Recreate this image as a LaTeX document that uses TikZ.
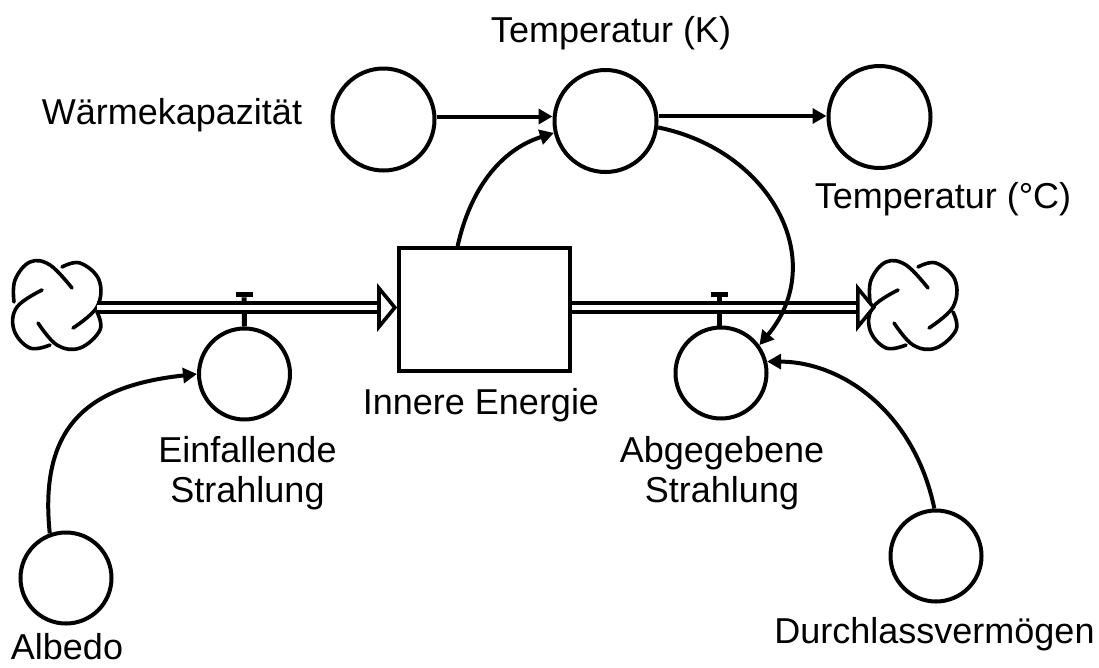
\documentclass[tikz,border=0pt]{standalone}
\usepackage{fontspec}
\setmainfont{Liberation Sans}
\usetikzlibrary{arrows.meta,positioning,calc}
\tikzset{
    x=1pt,y=1pt,
    >={Triangle[length=14pt,width=15pt]},
    converter/.style={circle,draw,line width=4pt,minimum size=91pt,inner sep=0pt},
    bigconverter/.style={converter,minimum size=102pt},
    stock/.style={rectangle,draw,line width=4.2pt,minimum width=170.5pt,minimum height=122.5pt,inner sep=0pt},
    label/.style={font=\fontsize{36}{39.5}\selectfont,align=center,anchor=base,inner sep=0pt},
    link/.style={->,line width=4pt},
    pipe/.style={draw,double=white,double distance=5.4pt,line width=3.4pt},
    pipehead/.style={-{Triangle[open,fill=white,length=20pt,width=48pt,line width=3.6pt]},line width=3.4pt},
    valvecap/.style={rectangle,fill=black,minimum width=17pt,minimum height=5.5pt,inner sep=0pt},
    valvestem/.style={line width=5pt},
    cloudline/.style={line width=3.6pt,line cap=round,smooth,tension=0.65},
    cloudknot/.pic={
        \draw[cloudline] plot coordinates {(-43,3) (-42,25) (-27,43) (-7,40) (15,17)};
        \draw[cloudline] plot coordinates {(5,38) (23,42) (42,25) (40,-2) (16,-23)};
        \draw[cloudline] plot coordinates {(-15,15) (-40,-2) (-43,-25) (-27,-43) (-7,-40)};
        \draw[cloudline] plot coordinates {(-19,-18) (0,-40) (23,-43) (43,-25) (40,-7)};
    }
}
\begin{document}
\begin{tikzpicture}
    \useasboundingbox (0,0) rectangle (1099,-667);

    % Converters
    \node[bigconverter] (waerme) at (383.5,-119.5) {};
    \node[bigconverter] (tempk) at (605.5,-121) {};
    \node[bigconverter] (tempc) at (879.5,-117) {};
    \node[converter] (einfall) at (244.5,-374) {};
    \node[converter] (abgabe) at (721,-373) {};
    \node[converter] (albedo) at (66,-578) {};
    \node[converter] (durchlass) at (936,-556) {};

    % Stock
    \node[stock] (energie) at (484.5,-309.5) {};

    % Clouds
    \pic at (57,-305) {cloudknot};
    \pic at (913,-305) {cloudknot};
    \coordinate (cloudin) at (97,-307.5);
    \coordinate (headin) at (381,-307.5);
    \coordinate (boxin) at (energie.west |- headin);
    \coordinate (boxout) at (energie.east |- headin);
    \coordinate (headout) at (856,-307.5);
    \coordinate (cloudout) at (876,-307.5);

    % Valves
    \node[valvecap] (valvein) at (244,-294.5) {};
    \node[valvecap] (valveout) at (719,-294.5) {};
    \draw[valvestem] (einfall.north) -- (valvein);
    \draw[valvestem] (abgabe.north -| valveout) -- (valveout);

    % Flows
    \draw[pipe] (cloudin) -- (headin);
    \draw[pipehead] (headin) -- (boxin);
    \draw[pipe] (boxout) -- (headout);
    \draw[pipehead] (headout) -- (cloudout);

    % Links
    \coordinate (wtarget) at (tempk.west |- 0,-116.5);
    \draw[link] (waerme.east |- wtarget) -- (wtarget);
    \coordinate (ctarget) at (tempc.west |- 0,-116);
    \draw[link] (tempk.east |- ctarget) -- (ctarget);
    \draw[link] (energie.113) .. controls (470,-190) and (500,-150) .. (tempk.193);
    \draw[link] (tempk.-7) .. controls (770,-150) and (830,-260) .. (abgabe.36);
    \draw[link] (durchlass.92) .. controls (915,-415) and (845,-362) .. (abgabe.14);
    \draw[link] (albedo.110) .. controls (38,-420) and (95,-385) .. (einfall.180);

    % Labels
    \node[label] (waermetext) at (172,-124) {Wärmekapazität};
    \node[label] (tempktext) at (611,-42.5) {Temperatur (K)};
    \node[label] (tempctext) at (943,-208) {Temperatur (°C)};
    \node[label] (energietext) at (481,-414) {Innere Energie};
    \node[label] (einfalltext) at (247.5,-502) {Einfallende\\Strahlung};
    \node[label] (abgabetext) at (722,-502) {Abgegebene\\Strahlung};
    \node[label] (albedotext) at (67,-659) {Albedo};
    \node[label] (durchlasstext) at (934.5,-643) {Durchlassvermögen};
\end{tikzpicture}
\end{document}
